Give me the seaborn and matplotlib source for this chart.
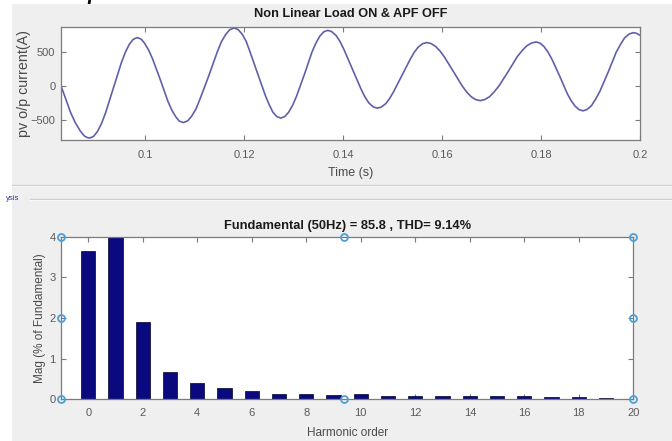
import matplotlib
matplotlib.use("Agg")
import matplotlib.pyplot as plt
import pandas as pd
import seaborn as sns
from matplotlib.patches import Rectangle
from matplotlib.lines import Line2D

# ---------------- data ----------------
time_s = [0.0830, 0.0840, 0.0849, 0.0859, 0.0869, 0.0874, 0.0878, 0.0883, 0.0888,
          0.0896, 0.0904, 0.0912, 0.0920, 0.0936, 0.0952, 0.0960, 0.0968, 0.0976, 0.0984,
          0.0992, 0.0999, 0.1007, 0.1015, 0.1031, 0.1046, 0.1054, 0.1062, 0.1069, 0.1077,
          0.1086, 0.1094, 0.1103, 0.1111, 0.1129, 0.1146, 0.1154, 0.1163, 0.1171, 0.1180,
          0.1188, 0.1196, 0.1204, 0.1211, 0.1227, 0.1243, 0.1251, 0.1258, 0.1266, 0.1274,
          0.1282, 0.1290, 0.1298, 0.1306, 0.1322, 0.1337, 0.1345, 0.1353, 0.1361, 0.1369,
          0.1377, 0.1386, 0.1394, 0.1402, 0.1419, 0.1436, 0.1444, 0.1452, 0.1461, 0.1469,
          0.1477, 0.1486, 0.1494, 0.1502, 0.1519, 0.1536, 0.1544, 0.1552, 0.1561, 0.1569,
          0.1578, 0.1587, 0.1596, 0.1605, 0.1623, 0.1641, 0.1650, 0.1659, 0.1668, 0.1677,
          0.1686, 0.1696, 0.1705, 0.1715, 0.1734, 0.1752, 0.1762, 0.1771, 0.1781, 0.1790,
          0.1798, 0.1806, 0.1814, 0.1822, 0.1838, 0.1853, 0.1861, 0.1869, 0.1877, 0.1885,
          0.1893, 0.1902, 0.1910, 0.1919, 0.1936, 0.1952, 0.1961, 0.1969, 0.1978, 0.1986,
          0.1993, 0.2000]
current_a = [0, -198, -383, -541, -662, -707, -739, -758, -765,
             -740, -666, -549, -396, -26, 343, 496, 613, 687, 712,
             691, 628, 530, 400, 87, -225, -355, -453, -516, -537,
             -513, -444, -334, -189, 158, 506, 650, 760, 829, 853,
             830, 764, 660, 522, 190, -141, -279, -383, -449, -472,
             -450, -386, -284, -149, 174, 496, 630, 733, 797, 819,
             800, 742, 652, 533, 246, -40, -159, -249, -307, -326,
             -310, -261, -185, -85, 157, 398, 498, 574, 623, 639,
             624, 582, 514, 425, 212, -2, -90, -158, -200, -215,
             -200, -157, -89, 1, 217, 432, 522, 590, 633, 648,
             631, 580, 500, 395, 141, -112, -217, -297, -348, -365,
             -345, -288, -197, -77, 210, 498, 617, 708, 765, 785,
             775, 746]

harmonic_order = [0, 1, 2, 3, 4, 5, 6, 7, 8, 9, 10, 11, 12, 13, 14, 15, 16, 17, 18, 19]
mag_pct = [3.66, 100.0, 1.89, 0.68, 0.39, 0.27, 0.20, 0.14, 0.14, 0.11,
           0.12, 0.09, 0.09, 0.07, 0.07, 0.07, 0.07, 0.05, 0.06, 0.04]

top_title = "Non Linear Load ON & APF OFF"
bottom_title = "Fundamental (50Hz) = 85.8 , THD= 9.14%"
time_ticks = [0.1, 0.12, 0.14, 0.16, 0.18, 0.2]
time_tick_labels = ["0.1", "0.12", "0.14", "0.16", "0.18", "0.2"]
current_ticks = [-500, 0, 500]
harm_ticks = [0, 2, 4, 6, 8, 10, 12, 14, 16, 18, 20]
mag_ticks = [0, 1, 2, 3, 4]

# ---------------- style ----------------
sns.set_style("ticks")
plt.rcParams["font.family"] = ["Liberation Sans", "DejaVu Sans"]

W, H = 672, 441
fig = plt.figure(figsize=(W / 100, H / 100), dpi=100, facecolor="white")

# grey MATLAB panel background
fig.add_artist(Rectangle((12 / W, 0), 1 - 12 / W, 1 - 4 / H, transform=fig.transFigure,
                         facecolor="#efefef", edgecolor="none", zorder=-10))
fig.text(93 / W, 1.0, "p", fontsize=15, style="italic", weight="bold",
         family=["Liberation Serif", "DejaVu Serif"], va="baseline", ha="center",
         color="black", zorder=-20)
# panel separators
for yy, x0 in [(185, 12), (199, 30)]:
    fig.add_artist(Line2D([x0 / W, 1], [1 - yy / H] * 2, transform=fig.transFigure,
                          color="#cdcdcd", lw=1.0))
    fig.add_artist(Line2D([x0 / W, 1], [1 - (yy + 1) / H] * 2, transform=fig.transFigure,
                          color="#fafafa", lw=0.8))
fig.text(6 / W, 1 - 198 / H, "ysis", fontsize=5.5, color="#2b3990", va="center", ha="left")

spine_col = "#7b7b7b"
tick_lab_col = "#5a5a5a"
lab_col = "#4a4a4a"


def style_axes(ax, xpad, ypad):
    for s in ax.spines.values():
        s.set_color(spine_col)
        s.set_linewidth(0.9)
    ax.tick_params(direction="in", top=True, right=True, length=3.5, width=0.8,
                   color=spine_col, labelcolor=tick_lab_col, labelsize=8)
    ax.tick_params(axis="x", pad=xpad)
    ax.tick_params(axis="y", pad=ypad)
    ax.set_facecolor("white")


# ---------------- top: waveform ----------------
ax1 = fig.add_axes([61 / W, 1 - 140 / H, 579 / W, 113 / H])
wave = pd.DataFrame({"t": time_s, "i": current_a})
sns.lineplot(data=wave, x="t", y="i", ax=ax1, color="#6060aa", lw=1.2)
ax1.set_xlim(0.083, 0.2)
ax1.set_ylim(-794, 868)
ax1.set_xticks(time_ticks)
ax1.set_xticklabels(time_tick_labels)
ax1.set_yticks(current_ticks)
style_axes(ax1, 7, 4)
ax1.set_xlabel("Time (s)", fontsize=9, color=lab_col)
ax1.set_ylabel("pv o/p current(A)", fontsize=10.3, color=lab_col)
ax1.xaxis.set_label_coords(0.5, (140 - 167) / 113)
ax1.yaxis.set_label_coords((31 - 61) / 579, 0.5)
ax1.set_title(top_title, fontsize=9.2, weight="bold", color="#1a1a1a",
              y=(140 - 14) / 113, va="center", pad=0)

# ---------------- bottom: harmonic spectrum ----------------
ax2 = fig.add_axes([61 / W, 1 - 399.3 / H, 572.3 / W, 162.6 / H])
spec = pd.DataFrame({"order": harmonic_order, "mag": mag_pct})
sns.barplot(data=spec, x="order", y="mag", ax=ax2, native_scale=True, width=0.52,
            color="#0a0a7e", saturation=1, errorbar=None,
            edgecolor="#00002a", linewidth=0.5)
ax2.set_xlim(-1, 20)
ax2.set_ylim(0, 4)
ax2.set_xticks(harm_ticks)
ax2.set_xticklabels([str(v) for v in harm_ticks])
ax2.set_yticks(mag_ticks)
style_axes(ax2, 6.5, 4)
ax2.set_xlabel("Harmonic order", fontsize=8.5, color=lab_col)
ax2.set_ylabel("Mag (% of Fundamental)", fontsize=8.5, color=lab_col)
ax2.xaxis.set_label_coords(0.5, (399.3 - 427) / 162.6)
ax2.yaxis.set_label_coords((46 - 61) / 572.3, 0.5)
ax2.set_title(bottom_title, fontsize=9.3, weight="bold", color="#1a1a1a",
              y=(399.3 - 226) / 162.6, va="center", pad=0)

# selection handles drawn on the axes frame
ax2.plot([0, 0, 0, 0.495, 0.495, 1, 1, 1], [1, 0.5, 0, 1, 0, 1, 0.5, 0],
         transform=ax2.transAxes, clip_on=False, ls="none", marker="o",
         ms=5, mfc="none", mec="#4f9fd6", mew=1.3, zorder=5)

fig.savefig("out.png", dpi=100, facecolor=fig.get_facecolor())
